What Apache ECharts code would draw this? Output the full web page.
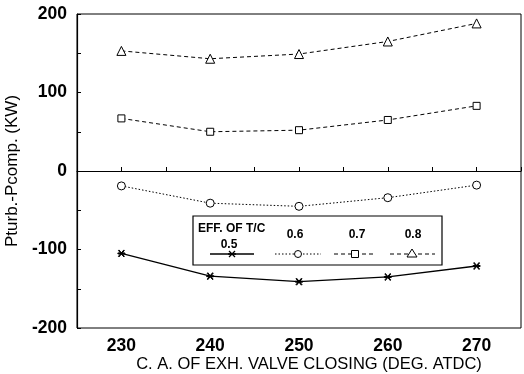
<!DOCTYPE html>
<html><head><meta charset="utf-8">
<script src="https://cdn.jsdelivr.net/npm/echarts@6/dist/echarts.min.js"></script>
<style>html,body{margin:0;padding:0;background:#fff}#c{width:524px;height:374px}</style>
</head><body><div id="c"></div>
<script>
const categories = [230, 240, 250, 260, 270];
const eff05 = [-105, -134, -141, -135, -121];
const eff06 = [-19, -41, -45, -34, -18];
const eff07 = [67, 50, 52, 65, 83];
const eff08 = [153, 143, 149, 165, 188];
const yTicks = [-200, -100, 0, 100, 200];
const xTicks = [230, 240, 250, 260, 270];
const seriesNames = ['0.5', '0.6', '0.7', '0.8'];

const starPath = 'path://M0,4.4H10V5.6H0Z M1.5,0.8L9.2,8.5L8.5,9.2L0.8,1.5Z M8.5,0.8L9.2,1.5L1.5,9.2L0.8,8.5Z';
const font = 'Liberation Sans, Arial, sans-serif';
const pairs = arr => categories.map((c, i) => [c, arr[i]]);

const chart = echarts.init(document.getElementById('c'), null, {renderer: 'canvas'});

function legendGraphic() {
  const els = [];
  els.push({type: 'rect', shape: {x: 193, y: 216, width: 249, height: 49}, style: {fill: '#fff', stroke: '#000', lineWidth: 1.2}, z: 100});
  els.push({type: 'text', x: 198, y: 223, style: {text: 'EFF. OF T/C', font: 'bold 12px ' + font, fill: '#000'}, z: 101});
  const items = [
    {label: seriesNames[0], lx: 229, ly: 239, x1: 210, x2: 254, sx: 232, dash: null, sym: 'star'},
    {label: seriesNames[1], lx: 295, ly: 229, x1: 275, x2: 321, sx: 298, dash: [1.5, 2], sym: 'circle'},
    {label: seriesNames[2], lx: 357, ly: 229, x1: 334, x2: 376, sx: 355, dash: [4, 3], sym: 'rect'},
    {label: seriesNames[3], lx: 413, ly: 229, x1: 390, x2: 435, sx: 412, dash: [4, 3], sym: 'tri'}
  ];
  const ly = 254;
  items.forEach(it => {
    els.push({type: 'text', x: it.lx, y: it.ly, style: {text: it.label, font: 'bold 12px ' + font, fill: '#000', textAlign: 'center'}, z: 101});
    els.push({type: 'line', shape: {x1: it.x1, y1: ly, x2: it.x2, y2: ly}, style: {stroke: '#000', lineWidth: it.dash ? 1 : 1.3, lineDash: it.dash}, z: 101});
    const cx = it.sx;
    if (it.sym === 'circle') els.push({type: 'circle', shape: {cx: cx, cy: ly, r: 3.5}, style: {fill: '#fff', stroke: '#000', lineWidth: 1}, z: 102});
    if (it.sym === 'rect') els.push({type: 'rect', shape: {x: cx - 3.5, y: ly - 3.5, width: 7, height: 7}, style: {fill: '#fff', stroke: '#000', lineWidth: 1}, z: 102});
    if (it.sym === 'tri') els.push({type: 'polygon', shape: {points: [[cx, ly - 5], [cx + 5, ly + 3], [cx - 5, ly + 3]]}, style: {fill: '#fff', stroke: '#000', lineWidth: 1}, z: 102});
    if (it.sym === 'star') {
      els.push({type: 'line', shape: {x1: cx - 4, y1: ly, x2: cx + 4, y2: ly}, style: {stroke: '#000', lineWidth: 1.5}, z: 102});
      els.push({type: 'line', shape: {x1: cx - 3, y1: ly - 3, x2: cx + 3, y2: ly + 3}, style: {stroke: '#000', lineWidth: 1.3}, z: 102});
      els.push({type: 'line', shape: {x1: cx + 3, y1: ly - 3, x2: cx - 3, y2: ly + 3}, style: {stroke: '#000', lineWidth: 1.3}, z: 102});
    }
  });
  return els;
}

function mkSeries(name, data, symbol, size, dash, width) {
  return {
    name: name, type: 'line', data: pairs(data), symbol: symbol, symbolSize: size,
    lineStyle: {color: '#000', width: width, type: dash},
    itemStyle: {color: symbol === starPath ? '#000' : '#fff', borderColor: '#000', borderWidth: 1},
    showAllSymbol: true, animation: false, z: 5
  };
}

chart.setOption({
  backgroundColor: '#fff',
  animation: false,
  textStyle: {fontFamily: font},
  grid: {left: 77, right: 3, top: 14, bottom: 46, show: true, borderColor: '#000', borderWidth: 1, backgroundColor: 'transparent', containLabel: false, outerBoundsMode: 'none'},
  xAxis: {
    type: 'value', min: 225, max: 275, interval: 5,
    name: 'C. A. OF EXH. VALVE CLOSING (DEG. ATDC)', nameLocation: 'middle', nameGap: 28, nameMoveOverlap: false,
    nameTextStyle: {fontSize: 16.5, color: '#000', fontFamily: font, padding: [0, 0, 0, 20]},
    axisLine: {lineStyle: {color: '#000', width: 1.2}},
    axisTick: {inside: true, length: 4, lineStyle: {color: '#000'}},
    axisLabel: {color: '#000', fontSize: 17.5, fontWeight: 'bold', fontFamily: font, margin: 9,
      formatter: v => xTicks.includes(v) ? String(v) : ''},
    splitLine: {show: false}
  },
  yAxis: {
    type: 'value', min: -200, max: 200, interval: 50,
    name: 'Pturb.-Pcomp. (KW)', nameLocation: 'middle', nameGap: 56, nameMoveOverlap: false,
    nameTextStyle: {fontSize: 17, color: '#000', fontFamily: font},
    axisLine: {lineStyle: {color: '#000', width: 1.2}},
    axisTick: {inside: true, length: 4, lineStyle: {color: '#000'}},
    axisLabel: {color: '#000', fontSize: 17.5, fontWeight: 'bold', fontFamily: font, margin: 10,
      formatter: v => yTicks.includes(v) ? String(v) : ''},
    splitLine: {show: false}
  },
  series: [
    Object.assign(mkSeries(seriesNames[0], eff05, starPath, 7, 'solid', 1.3), {
      markLine: {silent: true, symbol: 'none', label: {show: false}, lineStyle: {color: '#000', type: 'solid', width: 1.2}, data: [{yAxis: 0}]}
    }),
    mkSeries(seriesNames[1], eff06, 'circle', 8, [1.5, 2], 1),
    mkSeries(seriesNames[2], eff07, 'rect', 7, [4, 3], 1),
    mkSeries(seriesNames[3], eff08, 'triangle', 9, [4, 3], 1)
  ],
  graphic: legendGraphic()
});
</script></body></html>
